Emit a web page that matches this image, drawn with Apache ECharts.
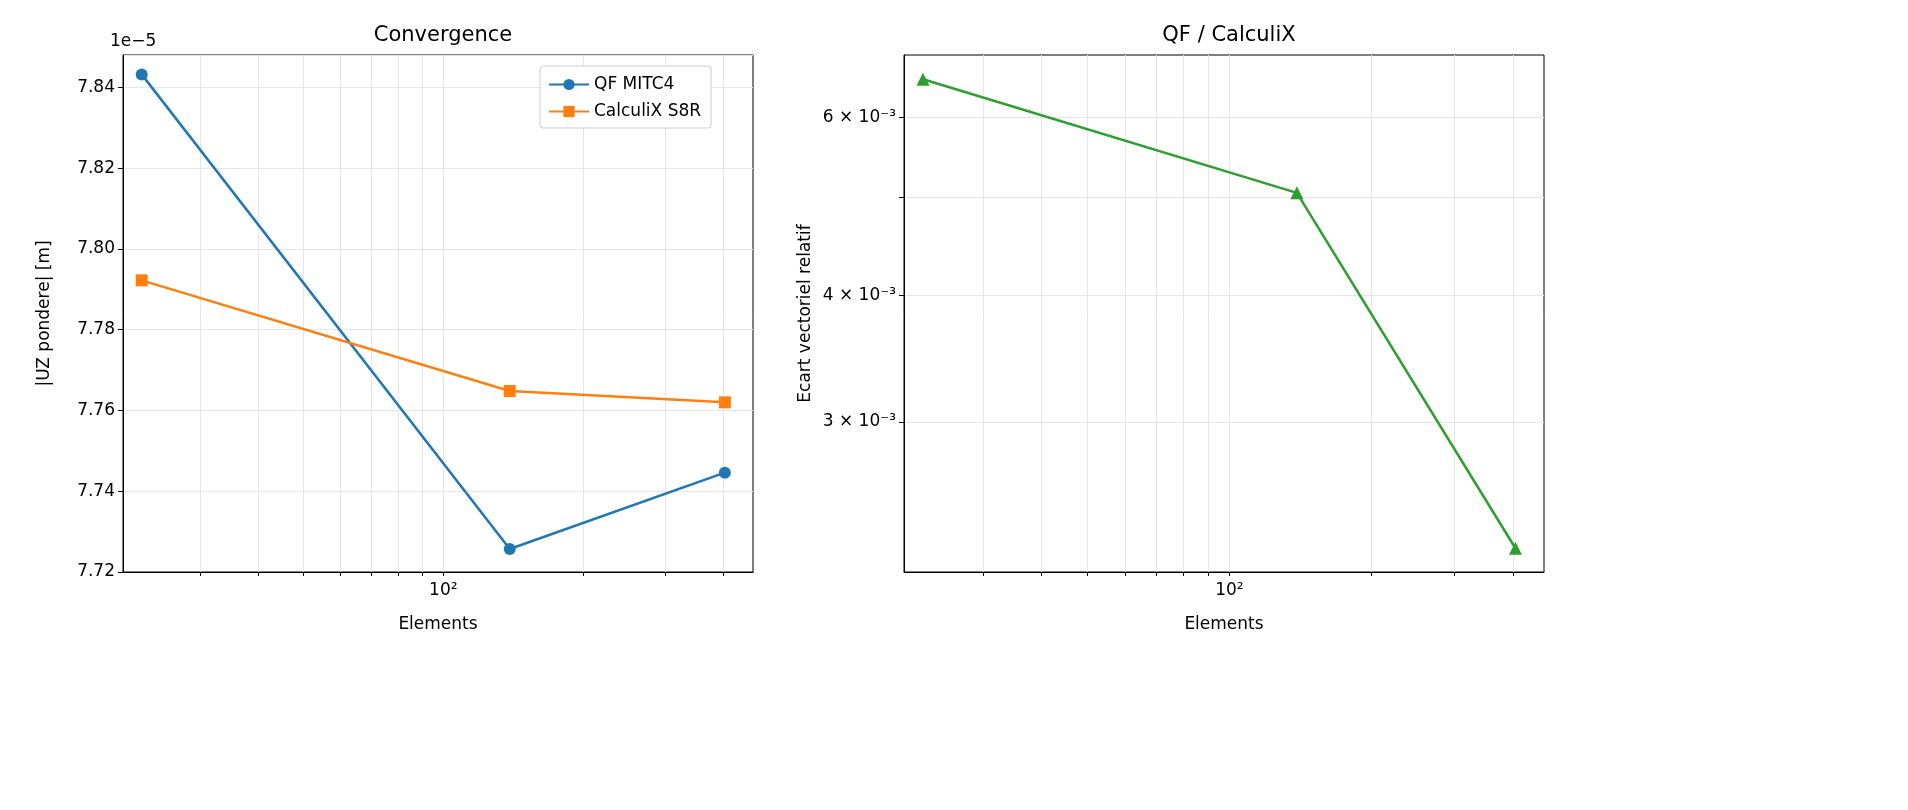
<!DOCTYPE html>
<html>
<head>
<meta charset="UTF-8">
<title>Convergence</title>
<script src="https://cdn.jsdelivr.net/npm/echarts@6/dist/echarts.min.js"></script>
</head>
<body style="margin:0;background:#fff">
<div id="main" style="width:1908px;height:810px;"></div>
<script>
// data
var elements = [22.4, 139, 404];
var qfMitc4 = [7.8432, 7.7257, 7.7446];      // x 1e-5 m
var calculixS8R = [7.7922, 7.7648, 7.7620];  // x 1e-5 m
var ecartRelatif = [6.54e-3, 5.05e-3, 2.25e-3];
var xMinorTicks = [20, 30, 40, 50, 60, 70, 80, 90, 200, 300, 400];
var yRightTicks = [3e-3, 4e-3, 6e-3];
var yRightMinor = [2e-3, 5e-3];

var lg = Math.log10;
var font = 'DejaVu Sans';

var xTickVals = [2].concat(xMinorTicks.map(lg));
function xAxis(idx) {
    return {
        gridIndex: idx, type: 'value', min: 1.31, max: 2.667,
        name: 'Elements', nameLocation: 'middle', nameGap: 44,
        nameTextStyle: {color: '#000', fontSize: 17, fontFamily: font},
        axisLine: {onZero: false, lineStyle: {color: '#000'}},
        axisTick: {show: true, customValues: xTickVals, length: 4, lineStyle: {color: '#000'}},
        axisLabel: {customValues: [2], color: '#000', fontSize: 17, fontFamily: font, margin: 10,
            formatter: function () { return '10²'; }},
        splitLine: {show: true, lineStyle: {color: '#e6e6e6'}}
    };
}
function pairs(xs, ys, f) {
    return xs.map(function (x, i) { return [lg(x), f ? f(ys[i]) : ys[i]]; });
}
var yRightAll = yRightTicks.concat(yRightMinor).map(lg);

var chart = echarts.init(document.getElementById('main'));
chart.setOption({
    animation: false,
    title: [
        {text: 'Convergence', left: 438, top: 20, textAlign: 'center', textStyle: {fontSize: 21, fontWeight: 'normal', fontFamily: font, color: '#000'}},
        {text: 'QF / CalculiX', left: 1224, top: 20, textAlign: 'center', textStyle: {fontSize: 21, fontWeight: 'normal', fontFamily: font, color: '#000'}}
    ],
    graphic: [{type: 'text', left: 110, top: 33, style: {text: '1e−5', fontSize: 17, fontFamily: font, fill: '#000'}}],
    legend: {
        left: 540, top: 66, orient: 'vertical', itemGap: 10, itemWidth: 40, itemHeight: 14,
        padding: [10, 10, 8, 8], borderColor: '#ccc', borderWidth: 1, borderRadius: 3,
        backgroundColor: '#fff',
        textStyle: {fontSize: 17, fontFamily: font, color: '#000'},
        data: ['QF MITC4', 'CalculiX S8R']
    },
    grid: [
        {left: 123, top: 55, width: 630, height: 517, show: true, borderColor: '#000', borderWidth: 1},
        {left: 904, top: 55, width: 640, height: 517, show: true, borderColor: '#000', borderWidth: 1}
    ],
    xAxis: [xAxis(0), xAxis(1)],
    yAxis: [
        {gridIndex: 0, type: 'value', min: 7.72, max: 7.848, interval: 0.02,
            name: '|UZ pondere| [m]', nameLocation: 'middle', nameGap: 70,
            nameTextStyle: {color: '#000', fontSize: 17, fontFamily: font},
            axisLine: {show: true, lineStyle: {color: '#000'}},
            axisTick: {show: true, length: 5, lineStyle: {color: '#000'}},
            axisLabel: {showMaxLabel: false, color: '#000', fontSize: 17, fontFamily: font, formatter: function (v) { return v.toFixed(2); }},
            splitLine: {show: true, lineStyle: {color: '#e6e6e6'}}},
        {gridIndex: 1, type: 'value', min: -2.6713, max: -2.1605,
            name: 'Ecart vectoriel relatif', nameLocation: 'middle', nameGap: 90,
            nameTextStyle: {color: '#000', fontSize: 17, fontFamily: font},
            axisLine: {show: true, lineStyle: {color: '#000'}},
            axisTick: {show: true, customValues: yRightAll, length: 5, lineStyle: {color: '#000'}},
            axisLabel: {customValues: yRightTicks.map(lg), color: '#000', fontSize: 17, fontFamily: font,
                formatter: function (v) {
                    var m = Math.round(Math.pow(10, v) * 1000);
                    return m + ' × 10⁻³';
                }},
            splitLine: {show: true, lineStyle: {color: '#e6e6e6'}}}
    ],
    series: [
        {name: 'QF MITC4', type: 'line', xAxisIndex: 0, yAxisIndex: 0, data: pairs(elements, qfMitc4),
            symbol: 'circle', symbolSize: 12, color: '#1f77b4', lineStyle: {width: 2.5}},
        {name: 'CalculiX S8R', type: 'line', xAxisIndex: 0, yAxisIndex: 0, data: pairs(elements, calculixS8R),
            symbol: 'rect', symbolSize: 12, color: '#ff7f0e', lineStyle: {width: 2.5}},
        {name: 'Ecart', type: 'line', xAxisIndex: 1, yAxisIndex: 1, data: pairs(elements, ecartRelatif, lg),
            symbol: 'triangle', symbolSize: 13, color: '#2ca02c', lineStyle: {width: 2.5}}
    ]
});
</script>
</body>
</html>
